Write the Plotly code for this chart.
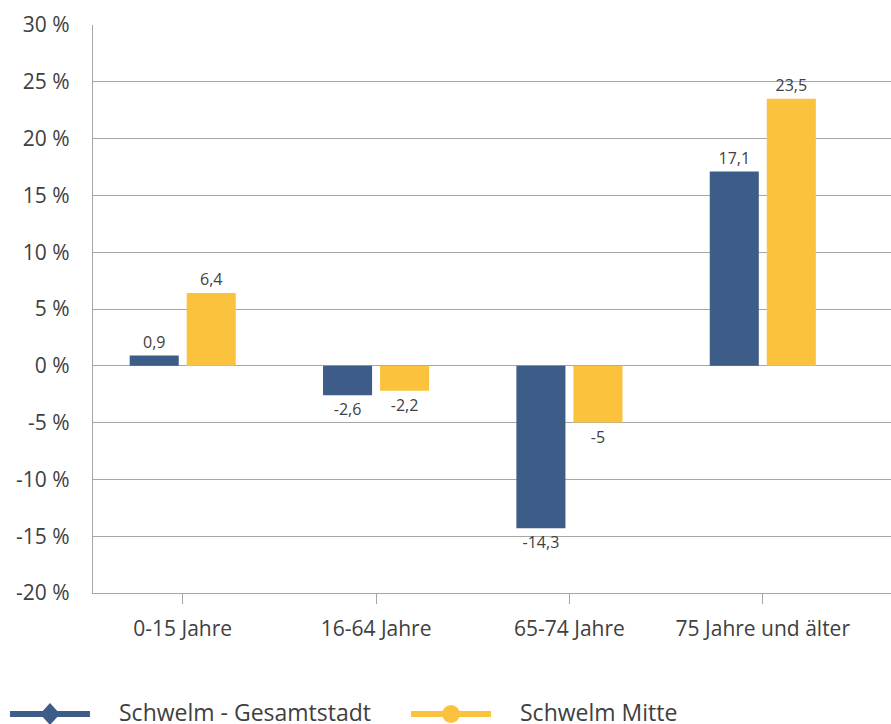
import plotly.graph_objects as go

categories = ["0-15 Jahre", "16-64 Jahre", "65-74 Jahre", "75 Jahre und älter"]
series_names = ["Schwelm - Gesamtstadt", "Schwelm Mitte"]
gesamtstadt = [0.9, -2.6, -14.3, 17.1]
mitte = [6.4, -2.2, -5.0, 23.5]
y_ticks = [-20, -15, -10, -5, 0, 5, 10, 15, 20, 25, 30]
y_tick_labels = ["-20 %", "-15 %", "-10 %", "-5 %", "0 %", "5 %", "10 %", "15 %", "20 %", "25 %", "30 %"]

BLUE = "#3e5c88"
YELLOW = "#fbc23e"
TEXT = "#404040"
GRID = "#a6a6a6"
FONT = "Open Sans"

def fmt(v):
    return f"{v:g}".replace(".", ",")

fig = go.Figure()
for name, vals, col in [(series_names[0], gesamtstadt, BLUE), (series_names[1], mitte, YELLOW)]:
    fig.add_trace(go.Bar(
        x=categories, y=vals, name=name, marker=dict(color=col, line=dict(width=0)),
        text=[fmt(v) for v in vals], textposition="outside",
        textfont=dict(family=FONT, size=16, color=TEXT),
        cliponaxis=False, showlegend=False,
    ))

W, H = 891, 724
L, R, T, B = 93, 0, 25, 131
pw, ph = W - L - R, H - T - B

fig.update_layout(
    width=W, height=H,
    margin=dict(l=L, r=R, t=T, b=B),
    paper_bgcolor="white", plot_bgcolor="white",
    barmode="group", bargap=0.41, bargroupgap=0.14,
    font=dict(family=FONT, color=TEXT, size=17),
    xaxis=dict(
        range=[-0.464, 3.663], showgrid=False, zeroline=False,
        showline=True, linecolor=GRID, linewidth=1.3,
        ticks="outside", ticklen=10, tickcolor=GRID, tickwidth=1.3,
        ticklabelstandoff=7,
        tickfont=dict(family=FONT, size=21, color=TEXT),
    ),
    yaxis=dict(
        range=[-20, 30], tickvals=y_ticks, ticktext=y_tick_labels,
        showgrid=True, gridcolor=GRID, gridwidth=1.3,
        zeroline=True, zerolinecolor=GRID, zerolinewidth=1.3,
        showline=True, linecolor=GRID, linewidth=1.3,
        ticks="", ticklabelstandoff=18,
        tickfont=dict(family=FONT, size=21, color=TEXT),
    ),
    showlegend=False,
)

# Custom legend (line with marker) below the chart
def px_to_paper(x, y):
    return (x - L) / pw, (H - B - y) / ph

legend_items = [
    (series_names[0], BLUE, "diamond", 10, 90, 117),
    (series_names[1], YELLOW, "circle", 411, 491, 518),
]
ly = 714
for name, col, sym, x0, x1, tx in legend_items:
    ax0, ay = px_to_paper(x0, ly)
    ax1, _ = px_to_paper(x1, ly)
    fig.add_shape(type="line", xref="paper", yref="paper", x0=ax0, x1=ax1, y0=ay, y1=ay,
                  line=dict(color=col, width=6))
    cx = (x0 + x1) / 2
    if sym == "diamond":
        pts = [(cx, ly - 11), (cx + 10, ly), (cx, ly + 11), (cx - 10, ly)]
        path = "M " + " L ".join(f"{px_to_paper(px, py)[0]},{px_to_paper(px, py)[1]}" for px, py in pts) + " Z"
        fig.add_shape(type="path", xref="paper", yref="paper", path=path,
                      fillcolor=col, line=dict(color=col, width=0))
    else:
        a0, b0 = px_to_paper(cx - 9, ly - 9)
        a1, b1 = px_to_paper(cx + 9, ly + 9)
        fig.add_shape(type="circle", xref="paper", yref="paper", x0=a0, x1=a1, y0=b0, y1=b1,
                      fillcolor=col, line=dict(color=col, width=0))
    tx_p, ty_p = px_to_paper(tx, ly - 2)
    fig.add_annotation(xref="paper", yref="paper", x=tx_p, y=ty_p, text=name,
                       showarrow=False, xanchor="left", yanchor="middle",
                       font=dict(family=FONT, size=23, color=TEXT))

fig.write_html("out.html")
